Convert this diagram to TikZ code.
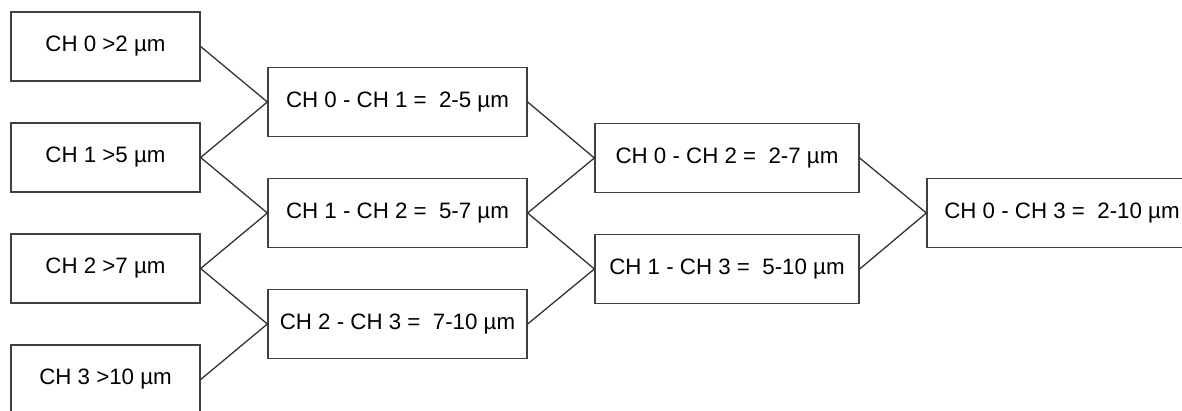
\documentclass[tikz,border=0pt]{standalone}
\usepackage{fontspec}
\setmainfont{Liberation Sans}
\begin{document}
\begin{tikzpicture}[x=1pt,y=-1pt,
  box/.style={draw=black!75,line width=1.3pt,fill=white,inner sep=0pt,
    minimum height=69pt,font=\fontsize{22.3}{26}\selectfont,text=black},
  c1/.style={box,minimum width=189pt},
  c2/.style={box,minimum width=259pt},
  c3/.style={box,minimum width=264pt},
  c4/.style={box,minimum width=270pt},
  link/.style={draw=black!80,line width=1.3pt}]
\useasboundingbox (0,0) rectangle (1182,411);
\clip (0,0) rectangle (1182,411);
\fill[white] (0,0) rectangle (1182,411);
% column 1
\node[c1] (a0) at (105.5,46.5) {CH 0 >2 µm};
\node[c1] (a1) at (105.5,157.5) {CH 1 >5 µm};
\node[c1] (a2) at (105.5,268.5) {CH 2 >7 µm};
\node[c1] (a3) at (105.5,379.5) {CH 3 >10 µm};
% column 2
\node[c2] (b0) at (397.5,102) {CH 0 - CH 1 =\ \ 2-5 µm};
\node[c2] (b1) at (397.5,213) {CH 1 - CH 2 =\ \ 5-7 µm};
\node[c2] (b2) at (397.5,324) {CH 2 - CH 3 =\ \ 7-10 µm};
% column 3
\node[c3] (d0) at (727,158) {CH 0 - CH 2 =\ \ 2-7 µm};
\node[c3] (d1) at (727,269) {CH 1 - CH 3 =\ \ 5-10 µm};
% column 4
\node[c4] (e0) at (1062,213) {CH 0 - CH 3 =\ \ 2-10 µm};
% connectors
\draw[link] (a0.east) -- (b0.west);
\draw[link] (a1.east) -- (b0.west);
\draw[link] (a1.east) -- (b1.west);
\draw[link] (a2.east) -- (b1.west);
\draw[link] (a2.east) -- (b2.west);
\draw[link] (a3.east) -- (b2.west);
\draw[link] (b0.east) -- (d0.west);
\draw[link] (b1.east) -- (d0.west);
\draw[link] (b1.east) -- (d1.west);
\draw[link] (b2.east) -- (d1.west);
\draw[link] (d0.east) -- (e0.west);
\draw[link] (d1.east) -- (e0.west);
\end{tikzpicture}
\end{document}
